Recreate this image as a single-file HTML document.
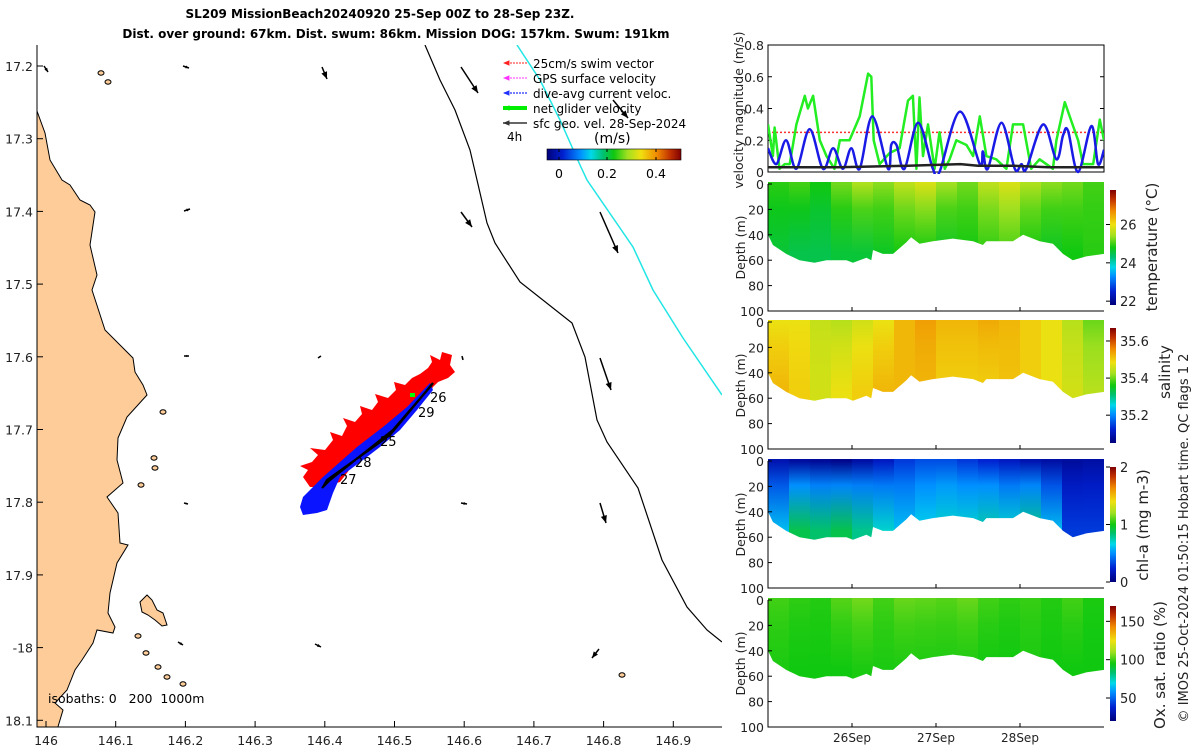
<!DOCTYPE html>
<html><head><meta charset="utf-8"><style>
html,body{margin:0;padding:0;background:#fff;}
svg{display:block;font-family:"DejaVu Sans","Liberation Sans",sans-serif;}
</style></head><body>
<svg id="fig" width="1200" height="750" viewBox="0 0 1200 750" xmlns="http://www.w3.org/2000/svg">
<defs id="defs"></defs>
<text x="380" y="18" text-anchor="middle" font-size="12" font-weight="bold">SL209 MissionBeach20240920 25-Sep 00Z to 28-Sep 23Z.</text>
<text x="396" y="38" text-anchor="middle" font-size="12" font-weight="bold">Dist. over ground: 67km. Dist. swum: 86km. Mission DOG: 157km. Swum: 191km</text>
<g id="map"></g>
<g id="vel"></g>
<g id="sect"></g>
<text transform="translate(1188,538) rotate(-90)" text-anchor="middle" font-size="13" fill="#222">© IMOS 25-Oct-2024 01:50:15 Hobart time. QC flags 1  2</text>
</svg>
<script>
// ---------- velocity data (hours since 25-Sep 00Z, m/s) ----------
const blueHours=[0,2.4,5.2,8.1,11.9,15.7,18.6,21.4,23.8,26.2,29.8,34.3,35.2,36.7,39,42.9,47.1,49,54.8,60.5,61.4,62.8,66.7,70.5,72.4,73.8,78.6,82.4,84.3,85.7,88.6,92.4,94.3,96];
const blueVals=[0.15,0.05,0.2,0.02,0.27,0.02,0.15,0.02,0.15,0.02,0.35,0.02,0.17,0.17,0.02,0.31,0.02,0.0,0.38,0.05,0.13,0.02,0.31,0.02,0.05,0.02,0.3,0.08,0.23,0.26,0.0,0.29,0.05,0.14];
const greenHours=[0,1.4,1.9,3.3,4.8,6.2,8.1,10.5,11.4,12.9,14.8,16.7,19,20.5,23.3,26.2,28.6,29.5,30.2,31.9,34.8,37.6,40,41.4,42.4,43.3,44.3,45.7,47.6,49,50.5,51.9,53.8,56.7,58.6,60.5,62.4,65.2,68.1,70,72.9,75.2,77.6,81.4,82.4,84.8,86.2,88.6,90,92.9,94.8,96];
const greenVals=[0.3,0.1,0.28,0.02,0.05,0.05,0.3,0.48,0.4,0.48,0.2,0.1,0.02,0.2,0.2,0.35,0.62,0.6,0.2,0.05,0.12,0.15,0.45,0.48,0.02,0.47,0.1,0.3,0.02,0.25,0.02,0.08,0.2,0.17,0.1,0.35,0.1,0.08,0.02,0.3,0.3,0.02,0.08,0.02,0.2,0.44,0.35,0.2,0.05,0.05,0.33,0.2];
const blackHours=[0,20,40,55,60,70,80,96];
const blackVals=[0.03,0.03,0.04,0.05,0.04,0.04,0.03,0.03];
const swimTarget=0.25;
const velTicks=[0,0.2,0.4,0.6,0.8];
// ---------- section data ----------
const profHours=[0,1.4,5.2,9,13.3,16.7,22.4,24.3,28.1,29.5,30,32.8,35.7,39.5,40.9,43.3,47.1,52.8,58.6,61.4,62.4,70,72.9,77.6,81.4,84.3,87.1,90.9,96];
const profDepth=[40,48,55,60,62,60,60,62,58,60,52,55,55,46,42,47,45,43,45,48,45,45,40,45,47,55,60,57,55];
const binHours=[0,6,12,18,24,30,36,42,48,54,60,66,72,78,84,90];
const tempSurf=[24.9,25.0,24.8,25.2,25.5,25.3,25.6,25.8,25.4,25.2,25.6,25.8,25.5,25.3,25.2,25.0];
const tempDeep=[24.6,24.5,24.5,24.6,24.6,24.7,24.8,24.8,24.7,24.8,24.9,25.0,24.8,24.7,24.8,24.9];
const salSurf=[35.48,35.48,35.45,35.44,35.46,35.48,35.52,35.54,35.52,35.52,35.53,35.52,35.50,35.48,35.44,35.40];
const salDeep=[35.52,35.50,35.46,35.48,35.50,35.52,35.52,35.52,35.50,35.50,35.50,35.51,35.50,35.48,35.46,35.44];
const chlSurf=[0.15,0.1,0.08,0.05,0.12,0.2,0.3,0.35,0.35,0.3,0.25,0.2,0.15,0.12,0.1,0.12];
const chlDeep=[0.6,0.9,0.85,0.9,0.8,0.7,0.6,0.65,0.7,0.7,0.75,0.7,0.8,0.6,0.3,0.3];
const oxSurf=[100,98,97,102,105,100,104,103,102,104,100,98,99,97,100,96];
const oxDeep=[96,95,95,95,96,96,96,96,96,96,95,95,96,95,95,95];
const depthTicks=[0,20,40,60,80,100];
const dateTicks=["26Sep","27Sep","28Sep"];
const dateTickHours=[24,48,72];
const mapLonTicks=["146","146.1","146.2","146.3","146.4","146.5","146.6","146.7","146.8","146.9"];
const mapLatTicks=["17.2","17.3","17.4","17.5","17.6","17.7","17.8","17.9","-18","18.1"];

const NS="http://www.w3.org/2000/svg";
function mk(tag,attrs,parent){const e=document.createElementNS(NS,tag);for(const k in attrs)e.setAttribute(k,attrs[k]);parent.appendChild(e);return e;}
const defs=document.getElementById('defs');
const mapG=document.getElementById('map');
const velG=document.getElementById('vel');
const secG=document.getElementById('sect');

const cmStops=[[0,[0,0,122]],[0.12,[0,32,208]],[0.25,[0,144,255]],[0.33,[0,216,232]],[0.42,[0,192,112]],[0.5,[16,200,16]],[0.6,[160,224,32]],[0.7,[240,224,16]],[0.82,[240,138,0]],[0.92,[192,48,0]],[1,[128,0,0]]];
function cmap(f){f=Math.max(0,Math.min(1,f));for(let i=1;i<cmStops.length;i++){if(f<=cmStops[i][0]){const a=cmStops[i-1],b=cmStops[i];const t=(f-a[0])/(b[0]-a[0]);const c=a[1].map((v,j)=>Math.round(v+(b[1][j]-v)*t));return `rgb(${c[0]},${c[1]},${c[2]})`;}}return 'rgb(128,0,0)';}
function cbarGrad(id,vertical){const g=mk('linearGradient',vertical?{id:id,x1:0,y1:1,x2:0,y2:0}:{id:id,x1:0,y1:0,x2:1,y2:0},defs);cmStops.forEach(s=>mk('stop',{offset:s[0],'stop-color':cmap(s[0])},g));}
cbarGrad('cbv',true);cbarGrad('cbh',false);

// ================= MAP =================
const MX0=37,MX1=722,MY0=45,MY1=727;
const lonX=l=>46+(l-146)*697;
const latY=l=>66+(l-17.2)*727;
const mclip=mk('clipPath',{id:'mclip'},defs);mk('rect',{x:MX0,y:MY0,width:MX1-MX0,height:MY1-MY0},mclip);
const mInner=mk('g',{'clip-path':'url(#mclip)'},mapG);
const coast="37,111 45,133 50,160 62,180 70,185 80,200 90,205 95,212 90,245 97,275 92,290 105,330 125,350 133,358 135,372 143,385 147,395 127,417 118,438 117,460 123,483 107,497 118,513 120,543 128,545 117,563 110,593 108,613 115,627 113,633 97,630 93,643 82,660 75,670 67,690 55,703 63,710 57,730 37,730";
let e=mk('polygon',{points:coast,fill:'#fdcc99',stroke:'#000','stroke-width':1},mInner);

const isl=mk('polygon',{points:"140,602 147,595 152,600 157,610 163,613 167,625 162,626 155,620 148,615 142,612",fill:'#fdcc99',stroke:'#000','stroke-width':1},mInner);

[[154,458],[163,412],[146,653],[158,667],[167,677],[183,684],[138,636],[622,675],[101,73],[108,82],[155,468],[141,485]].forEach(p=>{const c=mk('ellipse',{cx:p[0],cy:p[1],rx:3,ry:2.2,fill:'#fdcc99',stroke:'#000','stroke-width':1},mInner);});
e=mk('polyline',{points:"425,45 440,80 455,110 470,150 477,180 487,223 495,243 520,282 572,323 585,357 597,420 607,442 638,488 662,560 687,607 707,630 722,642",fill:'none',stroke:'#000','stroke-width':1.2},mInner);

e=mk('polyline',{points:"517,45 540,80 560,120 580,165 587,180 633,247 653,290 683,338 722,395",fill:'none',stroke:'#22e5e5','stroke-width':1.5},mInner);

function arrow(x1,y1,x2,y2,col,w,hs,parent){const g=mk('g',{},parent);mk('line',{x1:x1,y1:y1,x2:x2,y2:y2,stroke:col,'stroke-width':w},g);const a=Math.atan2(y2-y1,x2-x1);const p=[[x2,y2],[x2-hs*Math.cos(a-0.4),y2-hs*Math.sin(a-0.4)],[x2-hs*Math.cos(a+0.4),y2-hs*Math.sin(a+0.4)]];mk('polygon',{points:p.map(q=>q.join(',')).join(' '),fill:col},g);return g;}
[[44,66,48,72],[183,66,189,68],[322,67,327,79],[461,67,478,93],[613,100,628,118],[184,211,190,209],[461,212,472,227],[600,212,618,253],[184,356,189,356],[318,358,321,356],[462,356,463,360],[600,358,611,390],[184,503,188,504],[461,503,467,504],[600,503,606,523],[178,642,183,645],[315,644,321,647],[599,649,592,658]].forEach(a=>{const g=arrow(a[0],a[1],a[2],a[3],'#000',1.5,Math.min(8,Math.hypot(a[2]-a[0],a[3]-a[1])*0.6),mInner);});
// glider track
e=mk('polygon',{points:"303,477 308,470 300,466 312,462 318,455 310,448 325,450 333,440 330,432 342,436 347,426 343,418 355,422 362,414 360,406 372,410 378,402 375,394 388,398 396,390 394,382 405,385 412,378 420,374 428,368 432,362 430,355 440,360 442,352 452,355 450,365 455,372 448,378 438,382 433,387 428,395 423,400 418,408 410,418 402,420 396,428 390,433 385,440 375,443 368,452 357,460 352,466 347,473 340,482 333,484 323,487 310,487",fill:'#ff0000'},mInner);

e=mk('polygon',{points:"303,497 323,477 357,447 383,427 407,407 430,383 433,390 417,410 400,430 380,447 363,460 340,477 333,493 327,510 317,513 303,515 300,507",fill:'#0a14ff'},mInner);

e=mk('polyline',{points:"323,487 327,480 390,435 433,383 430,387 393,430 330,480 322,488",fill:'none',stroke:'#000','stroke-width':2.2},mInner);

mk('rect',{x:410,y:393,width:5,height:4,fill:'#00ff00'},mInner);
[["26",430,402],["29",418,417],["28",355,467],["27",340,484],["25",380,446]].forEach(t=>{const x=mk('text',{x:t[1],y:t[2],'font-size':13},mInner);x.textContent=t[0];});
// legend
const legItems=[["25cm/s swim vector",'#ff2020',1,true],["GPS surface velocity",'#ff30ff',1,true],["dive-avg current veloc.",'#2030ff',1.3,true],["net glider velocity",'#00ee00',4,false],["sfc geo. vel. 28-Sep-2024",'#333',1.5,false]];
legItems.forEach((it,i)=>{const y=63+i*15;const g=arrow(527,y,503,y,it[1],it[2],7,mapG);if(it[3])g.firstChild.setAttribute('stroke-dasharray','2 1');const t=mk('text',{x:533,y:y+5,'font-size':12},mapG);t.textContent=it[0];});
e=mk('text',{x:507,y:141,'font-size':12},mapG);e.textContent='4h';
e=mk('text',{x:594,y:143,'font-size':14},mapG);e.textContent='(m/s)';
e=mk('rect',{x:547,y:149,width:134,height:11,fill:'url(#cbh)',stroke:'#000','stroke-width':0.6},mapG);
[["0",559],["0.2",607],["0.4",656]].forEach(t=>{mk('line',{x1:t[1],y1:149,x2:t[1],y2:152,stroke:'#000'},mapG);mk('line',{x1:t[1],y1:157,x2:t[1],y2:160,stroke:'#000'},mapG);const x=mk('text',{x:t[1],y:178,'font-size':12.5,'text-anchor':'middle'},mapG);x.textContent=t[0];});
e=mk('text',{x:48,y:703,'font-size':12.5,style:'white-space:pre'},mapG);e.textContent='isobaths: 0   200  1000m';
e=mk('polyline',{points:`${MX0},${MY0} ${MX0},${MY1} ${MX1},${MY1}`,fill:'none',stroke:'#000','stroke-width':1},mapG);
mapLonTicks.forEach((l,i)=>{const x=lonX(146+i*0.1);mk('line',{x1:x,y1:MY1,x2:x,y2:MY1-6,stroke:'#000'},mapG);const t=mk('text',{x:x,y:745,'font-size':12.5,'text-anchor':'middle',fill:'#222'},mapG);t.textContent=l;});
mapLatTicks.forEach((l,i)=>{const y=latY(17.2+i*0.1);mk('line',{x1:MX0,y1:y,x2:MX0+6,y2:y,stroke:'#000'},mapG);const t=mk('text',{x:33,y:y+5,'font-size':12.5,'text-anchor':'end',fill:'#222'},mapG);t.textContent=l;});

// ================= VELOCITY PANEL =================
const PX0=768,PX1=1104;
const tX=h=>PX0+h/96*(PX1-PX0);
const VY0=45,VY1=172;
const vY=v=>VY1-v/0.8*(VY1-VY0);
e=mk('rect',{x:PX0,y:VY0,width:PX1-PX0,height:VY1-VY0,fill:'#fff',stroke:'#000','stroke-width':1},velG);
velTicks.forEach(v=>{const y=vY(v);mk('line',{x1:PX0,y1:y,x2:PX0+4,y2:y,stroke:'#000'},velG);mk('line',{x1:PX1,y1:y,x2:PX1-4,y2:y,stroke:'#000'},velG);const t=mk('text',{x:764,y:y+5,'font-size':12.5,'text-anchor':'end',fill:'#222'},velG);t.textContent=String(v);});
const vclip=mk('clipPath',{id:'vclip'},defs);mk('rect',{x:PX0,y:VY0,width:PX1-PX0,height:VY1-VY0+2},vclip);
const vIn=mk('g',{'clip-path':'url(#vclip)'},velG);
e=mk('line',{x1:PX0,y1:vY(swimTarget),x2:PX1,y2:vY(swimTarget),stroke:'#ff3030','stroke-width':1.5,'stroke-dasharray':'2 2'},vIn);
function series(hs,vs,col,w,name,smooth){const P=hs.map((h,i)=>[tX(h),vY(vs[i])]);let d='M'+P[0][0].toFixed(1)+','+P[0][1].toFixed(1);
 for(let i=1;i<P.length;i++){if(smooth){const p0=P[Math.max(0,i-2)],p1=P[i-1],p2=P[i],p3=P[Math.min(P.length-1,i+1)];const c1=[p1[0]+(p2[0]-p0[0])/6,p1[1]+(p2[1]-p0[1])/6],c2=[p2[0]-(p3[0]-p1[0])/6,p2[1]-(p3[1]-p1[1])/6];d+=` C${c1[0].toFixed(1)},${c1[1].toFixed(1)} ${c2[0].toFixed(1)},${c2[1].toFixed(1)} ${p2[0].toFixed(1)},${p2[1].toFixed(1)}`;}else d+=' L'+P[i][0].toFixed(1)+','+P[i][1].toFixed(1);}
 const p=mk('path',{d:d,fill:'none',stroke:col,'stroke-width':w,'stroke-linejoin':'round'},vIn);}
series(greenHours,greenVals,'#22ee22',2.5,'net-glider-velocity-line',false);
series(blueHours,blueVals,'#1a1ae6',2.5,'dive-avg-current-line',true);
series(blackHours,blackVals,'#222',2.5,'surface-geostrophic-line',false);
e=mk('text',{transform:'translate(743,110) rotate(-90)','font-size':12.5,'text-anchor':'middle',fill:'#222'},velG);e.textContent='velocity magnitude (m/s)';

// ================= SECTIONS =================
const panels=[
 {top:184,surf:tempSurf,deep:tempDeep,min:21.8,max:27.8,ticks:[22,24,26],label:'temperature (°C)',name:'temperature',lx:1157,ly:247},
 {top:322,surf:salSurf,deep:salDeep,min:35.05,max:35.67,ticks:[35.2,35.4,35.6],label:'salinity',name:'salinity',lx:1170,ly:372},
 {top:461,surf:chlSurf,deep:chlDeep,min:0,max:2,ticks:[0,1,2],label:'chl-a (mg m-3)',name:'chlorophyll',lx:1148,ly:525},
 {top:600,surf:oxSurf,deep:oxDeep,min:20,max:170,ticks:[50,100,150],label:'Ox. sat. ratio (%)',name:'oxygen',lx:1165,ly:665}];
const PH=127;
panels.forEach((P,pi)=>{
 const dY=d=>P.top+d/100*PH;
 const g=mk('g',{},secG);
 const cid='sc'+pi;const cp=mk('clipPath',{id:cid},defs);
 const pts=[[tX(0),P.top-2]].concat(profHours.map((h,i)=>[tX(h),dY(profDepth[i])])).concat([[tX(96),P.top-2]]);
 mk('polygon',{points:pts.map(q=>q[0].toFixed(1)+','+q[1].toFixed(1)).join(' ')},cp);
 const inner=mk('g',{'clip-path':`url(#${cid})`},g);
 binHours.forEach((h,i)=>{const gid='g'+pi+'_'+i;const lg=mk('linearGradient',{id:gid,x1:0,y1:P.top,x2:0,y2:dY(55),gradientUnits:'userSpaceOnUse'},defs);
  mk('stop',{offset:0,'stop-color':cmap((P.surf[i]-P.min)/(P.max-P.min))},lg);
  mk('stop',{offset:0.35,'stop-color':cmap(((P.surf[i]*0.5+P.deep[i]*0.5)-P.min)/(P.max-P.min))},lg);
  mk('stop',{offset:1,'stop-color':cmap((P.deep[i]-P.min)/(P.max-P.min))},lg);
  const x0=tX(h)-(i===0?3:0),x1=(i<binHours.length-1?tX(binHours[i+1]):tX(96)+3);
  const r=mk('rect',{x:x0,y:P.top-2,width:x1-x0+0.5,height:PH,fill:`url(#${gid})`},inner);
  });
 mk('polyline',{points:`${PX0},${P.top} ${PX0},${P.top+PH} ${PX1},${P.top+PH}`,fill:'none',stroke:'#000','stroke-width':1},g);
 depthTicks.forEach(d=>{const y=dY(d);mk('line',{x1:PX0,y1:y,x2:PX0+4,y2:y,stroke:'#000'},g);const t=mk('text',{x:764,y:y+5,'font-size':12.5,'text-anchor':'end',fill:'#222'},g);t.textContent=String(d);});
 dateTickHours.forEach(h=>{mk('line',{x1:tX(h),y1:P.top+PH,x2:tX(h),y2:P.top+PH-4,stroke:'#000'},g);});
 const yt=mk('text',{transform:`translate(745,${P.top+PH/2}) rotate(-90)`,'font-size':12.5,'text-anchor':'middle',fill:'#222'},g);yt.textContent='Depth (m)';
 const cy0=P.top+6,cy1=P.top+PH-6;const cby=v=>cy1-(v-P.min)/(P.max-P.min)*(cy1-cy0);
 const cb=mk('rect',{x:1110,y:cy0,width:6,height:cy1-cy0,fill:'url(#cbv)'},g);
 P.ticks.forEach(v=>{const y=cby(v);mk('line',{x1:1106,y1:y,x2:1110,y2:y,stroke:'#000'},g);const t=mk('text',{x:1120,y:y+5,'font-size':13,fill:'#222'},g);t.textContent=String(v);});
 const lb=mk('text',{transform:`translate(${P.lx},${P.ly}) rotate(-90)`,'font-size':15,'text-anchor':'middle',fill:'#222'},g);lb.textContent=P.label;
});
dateTicks.forEach((d,i)=>{const t=mk('text',{x:tX(dateTickHours[i]),y:742,'font-size':12,'text-anchor':'middle',fill:'#222'},secG);t.textContent=d;});
</script>
</body></html>
